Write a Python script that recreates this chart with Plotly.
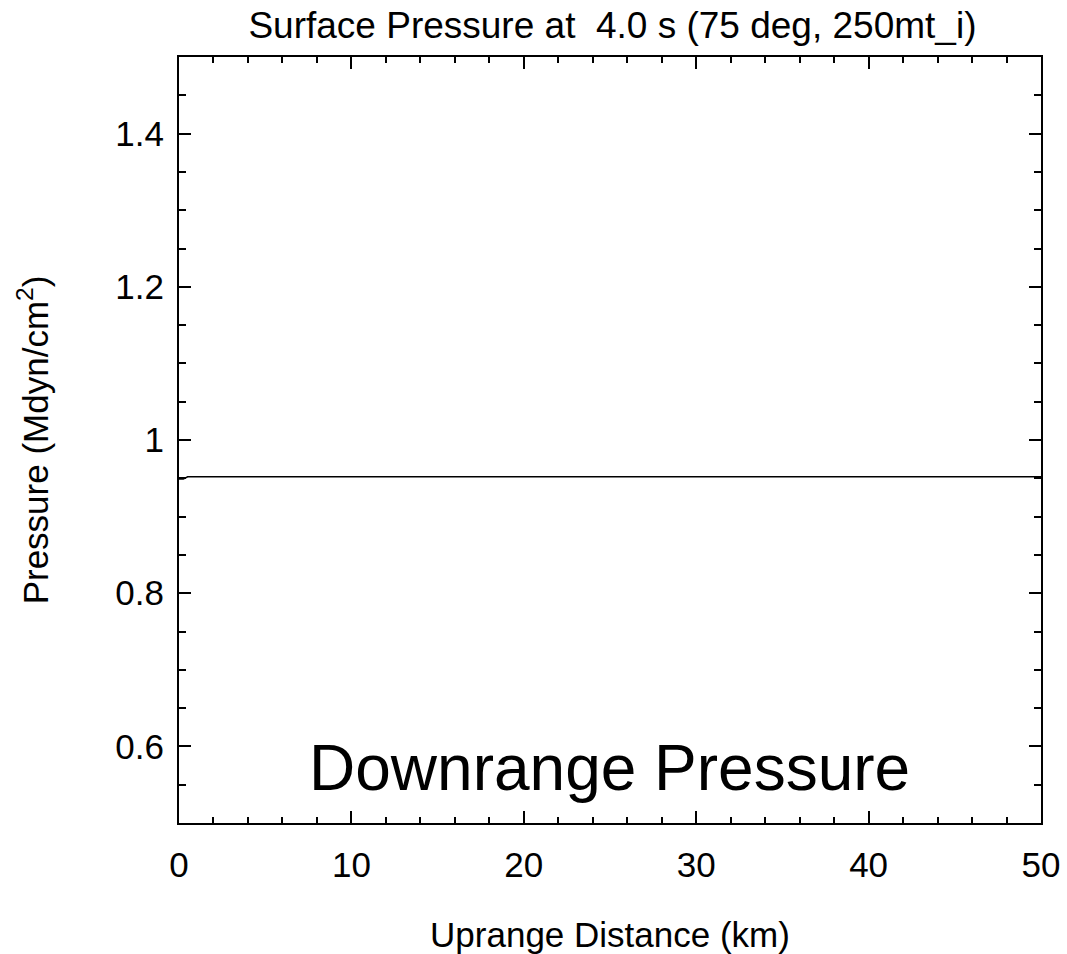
import plotly.graph_objects as go

distance_km = [0.0, 0.25, 0.5, 50.0]
pressure = [0.949, 0.949, 0.952, 0.952]

x_ticks = [0, 10, 20, 30, 40, 50]
y_ticks = [0.6, 0.8, 1.0, 1.2, 1.4]
y_tick_labels = ["0.6", "0.8", "1", "1.2", "1.4"]

fig = go.Figure()
fig.add_trace(go.Scatter(x=distance_km, y=pressure, mode="lines",
                         line=dict(color="black", width=1.5), showlegend=False))

font_family = "Liberation Sans, Arial, sans-serif"
axis_common = dict(showline=True, linecolor="black", linewidth=2, mirror="allticks",
                   ticks="inside", ticklen=12, tickwidth=2, tickcolor="black",
                   showgrid=False, zeroline=False, automargin=False,
                   tickfont=dict(family=font_family, size=35, color="black"))

fig.update_xaxes(range=[0, 50], tickvals=x_ticks, ticklabelstandoff=10,
                 minor=dict(dtick=2, ticks="inside", ticklen=6, tickwidth=1.5, tickcolor="black", showgrid=False),
                 title=dict(text="Uprange Distance (km)", font=dict(family=font_family, size=35, color="black"), standoff=40),
                 **axis_common)
fig.update_yaxes(range=[0.5, 1.5], tickvals=y_ticks, ticktext=y_tick_labels, ticklabelstandoff=6,
                 minor=dict(dtick=0.05, ticks="inside", ticklen=7, tickwidth=1.5, tickcolor="black", showgrid=False),
                 title=dict(text="Pressure (Mdyn/cm<sup>2</sup>)", font=dict(family=font_family, size=35, color="black"), standoff=56),
                 **axis_common)

fig.add_annotation(text="Downrange Pressure", xref="paper", yref="paper",
                   x=0.499, y=0.072, xanchor="center", yanchor="middle", showarrow=False,
                   font=dict(family=font_family, size=64, color="black"))

fig.update_layout(
    width=1067, height=954,
    margin=dict(l=179, r=26, t=57, b=131),
    paper_bgcolor="white", plot_bgcolor="white",
    title=dict(text="Surface Pressure at  4.0 s (75 deg, 250mt_i)", x=0.574, xanchor="center",
               y=0.974, yanchor="middle",
               font=dict(family=font_family, size=37, color="black")),
)

fig.write_html("out.html")
